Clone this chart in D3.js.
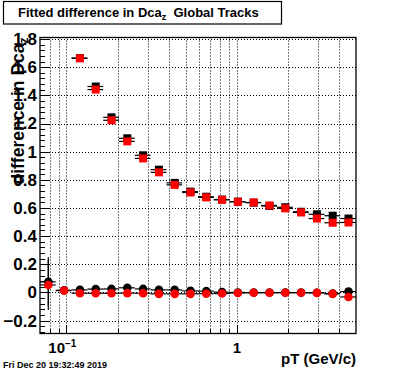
<!DOCTYPE html>
<html>
<head>
<meta charset="utf-8">
<script src="https://cdn.jsdelivr.net/npm/d3@7/dist/d3.min.js"></script>
<style>
body{margin:0;background:#fff}
svg{display:block}
text{font-family:"Liberation Sans",Arial,sans-serif;font-weight:bold;fill:#000}
</style>
</head>
<body>
<div id="chart"></div>
<script>
// bin edges in pT (log binning, 20 bins)
var binEdges = [0.07, 0.08665, 0.10727, 0.13279, 0.16438, 0.20349, 0.25190, 0.31183, 0.38601, 0.47784,
	0.59153, 0.73226, 0.90646, 1.12214, 1.38908, 1.71960, 2.12871, 2.63516, 3.26208, 4.03818, 5.0];

// sigma-like series (squares), no entries in the first two bins
var upperBlack = [null, null, 1.665, 1.463, 1.244, 1.095, 0.974, 0.872, 0.778, 0.716,
	0.680, 0.660, 0.645, 0.638, 0.614, 0.605, 0.573, 0.555, 0.545, 0.525];
var upperRed = [null, null, 1.663, 1.441, 1.223, 1.073, 0.952, 0.853, 0.764, 0.710,
	0.675, 0.658, 0.644, 0.639, 0.618, 0.597, 0.568, 0.525, 0.495, 0.497];

// mean-like series (circles)
var lowerBlack = [0.075, 0.015, 0.018, 0.024, 0.025, 0.033, 0.025, 0.018, 0.018, 0.011,
	0.009, 0.002, 0.000, -0.001, -0.001, -0.001, -0.001, -0.002, -0.008, 0.006];
var lowerRed = [0.053, 0.013, -0.006, -0.006, -0.006, -0.005, -0.006, -0.010, -0.010, -0.010,
	-0.009, -0.008, -0.004, -0.002, -0.002, -0.002, -0.002, -0.003, -0.010, -0.032];
var lowerBlackErr = [0.175, 0, 0, 0, 0, 0, 0, 0, 0, 0, 0, 0, 0, 0, 0, 0, 0, 0, 0, 0];
var lowerRedErr = [0.178, 0, 0, 0, 0, 0, 0, 0, 0, 0, 0, 0, 0, 0, 0, 0, 0, 0, 0, 0];

var yTicks = [-0.2, 0, 0.2, 0.4, 0.6, 0.8, 1, 1.2, 1.4, 1.6, 1.8];
var yTickLabels = ["\u22120.2", "0", "0.2", "0.4", "0.6", "0.8", "1", "1.2", "1.4", "1.6", "1.8"];
var xGrid = [0.08, 0.09, 0.1, 0.2, 0.3, 0.4, 0.5, 0.6, 0.7, 0.8, 0.9, 1, 2, 3, 4];
var xMajor = [0.1, 1];
var xMinor = [0.08, 0.09, 0.2, 0.3, 0.4, 0.5, 0.6, 0.7, 0.8, 0.9, 2, 3, 4];

var W = 396, H = 372;
var frame = {left: 40, right: 356, top: 37.5, bottom: 333.5};

var svg = d3.select("#chart").append("svg").attr("width", W).attr("height", H);
svg.append("rect").attr("width", W).attr("height", H).style("fill", "#fff");

var x = d3.scaleLog().domain([0.07, 5]).range([frame.left, frame.right]);
var y = d3.scaleLinear().domain([-0.2917, 1.811]).range([frame.bottom, frame.top]);

function px(v) { return Math.round(v) + 0.5; }

//grid
var grid = svg.append("g").style("stroke", "#000").style("stroke-dasharray", "1,2").style("stroke-width", 1);
xGrid.forEach(function(v){
	grid.append("line").attr("x1", px(x(v))).attr("x2", px(x(v))).attr("y1", frame.top).attr("y2", frame.bottom);
});
yTicks.forEach(function(v){
	grid.append("line").attr("x1", frame.left).attr("x2", frame.right).attr("y1", px(y(v))).attr("y2", px(y(v)));
});

//axes (ticks pointing inside the frame)
var yMinor = d3.range(-0.28, 1.81, 0.04).filter(function(v){ return Math.abs(v / 0.2 - Math.round(v / 0.2)) > 0.01; });
svg.append("g").attr("transform", "translate(" + frame.left + ",0)")
	.call(d3.axisLeft(y).tickValues(yMinor).tickSize(-5).tickFormat(""))
	.call(function(g){ g.select(".domain").remove(); });
var yAxis = svg.append("g").attr("transform", "translate(" + frame.left + ",0)")
	.call(d3.axisLeft(y).tickValues(yTicks).tickSize(-9).tickPadding(3)
		.tickFormat(function(d, i){ return yTickLabels[i]; }));
yAxis.select(".domain").remove();
yAxis.selectAll("text").style("font-size", "17px");

svg.append("g").attr("transform", "translate(0," + frame.bottom + ")")
	.call(d3.axisBottom(x).tickValues(xMinor).tickSize(-5).tickFormat(""))
	.call(function(g){ g.select(".domain").remove(); });
svg.append("g").attr("transform", "translate(0," + frame.bottom + ")")
	.call(d3.axisBottom(x).tickValues(xMajor).tickSize(-9).tickFormat(""))
	.call(function(g){ g.select(".domain").remove(); });
svg.selectAll(".tick line").style("stroke", "#000").attr("shape-rendering", "crispEdges");

// x labels
var lab = svg.append("text").attr("x", x(0.1) - 4).attr("y", 353).attr("text-anchor", "middle").style("font-size", "15px");
lab.append("tspan").text("10");
lab.append("tspan").attr("dy", -6).style("font-size", "10px").text("\u22121");
svg.append("text").attr("x", x(1)).attr("y", 353).attr("text-anchor", "middle").style("font-size", "15px").text("1");

// frame
svg.append("rect").attr("x", frame.left).attr("y", frame.top)
	.attr("width", frame.right - frame.left).attr("height", frame.bottom - frame.top)
	.style("fill", "none").style("stroke", "#000").style("stroke-width", 1.3);

// data
var bins = d3.range(binEdges.length - 1).map(function(i){
	return {lo: binEdges[i], hi: binEdges[i + 1], c: (binEdges[i] + binEdges[i + 1]) / 2};
});

function drawSeries(vals, errs, color, shape) {
	var g = svg.append("g");
	bins.forEach(function(b, i){
		var v = vals[i];
		if (v === null) return;
		var cy = y(v);
		g.append("line").attr("x1", x(b.lo)).attr("x2", x(b.hi)).attr("y1", cy).attr("y2", cy)
			.style("stroke", "#000").style("stroke-width", 1.2);
		if (errs && errs[i] > 0) {
			g.append("line").attr("x1", x(b.c)).attr("x2", x(b.c)).attr("y1", y(v - errs[i])).attr("y2", y(v + errs[i]))
				.style("stroke", "#000").style("stroke-width", 1.2);
		}
	});
	bins.forEach(function(b, i){
		var v = vals[i];
		if (v === null) return;
		if (shape == "square") {
			g.append("rect").attr("x", x(b.c) - 4).attr("y", y(v) - 4).attr("width", 8).attr("height", 8).style("fill", color);
		} else {
			g.append("circle").attr("cx", x(b.c)).attr("cy", y(v)).attr("r", 4.3).style("fill", color);
		}
	});
}

drawSeries(upperBlack, null, "#000", "square");
drawSeries(upperRed, null, "#ff0000", "square");
drawSeries(lowerBlack, lowerBlackErr, "#000", "circle");
drawSeries(lowerRed, lowerRedErr, "#ff0000", "circle");

// axis titles
var yt = svg.append("text").attr("transform", "translate(24," + frame.top + ") rotate(-90)")
	.attr("text-anchor", "end").style("font-size", "17.5px");
yt.append("tspan").text("difference in Dca");
yt.append("tspan").attr("dy", 4).style("font-size", "12px").text("z");

svg.append("text").attr("x", frame.right).attr("y", 364).attr("text-anchor", "end")
	.style("font-size", "15px").text("pT (GeV/c)");

// title box
svg.append("rect").attr("x", 3.5).attr("y", 1.5).attr("width", 278).attr("height", 22.5)
	.style("fill", "#fff").style("stroke", "#000").style("stroke-width", 1.2);
var tt = svg.append("text").attr("x", 18).attr("y", 17).style("font-size", "13px").style("white-space", "pre");
tt.append("tspan").text("Fitted difference in Dca");
tt.append("tspan").attr("dy", 3).style("font-size", "9px").text("z");
tt.append("tspan").attr("dy", -3).text("  Global Tracks");

svg.append("text").attr("x", 3).attr("y", 368).style("font-size", "9px").text("Fri Dec 20 19:32:49 2019");
</script>
</body>
</html>
